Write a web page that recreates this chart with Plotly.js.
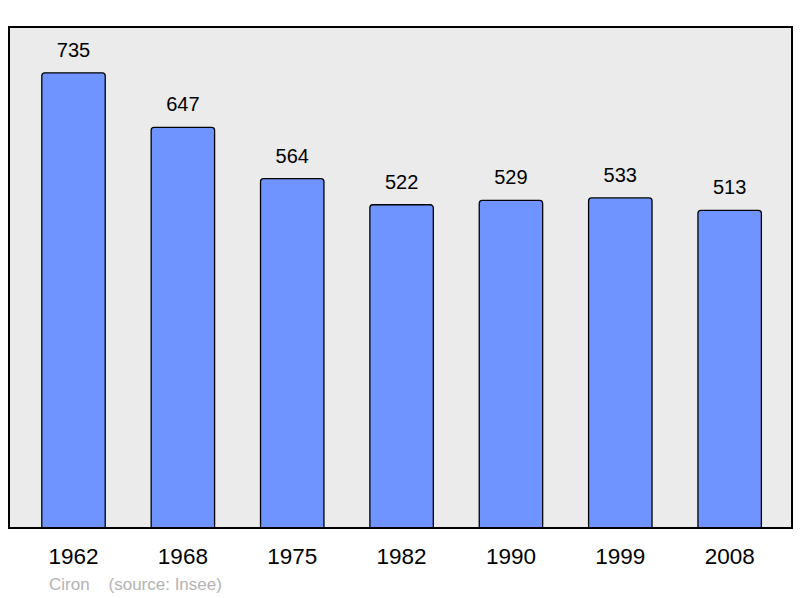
<!DOCTYPE html>
<html>
<head>
<meta charset="utf-8">
<script src="https://cdn.plot.ly/plotly-3.0.1.min.js"></script>
<style>body{margin:0;background:#fff}</style>
</head>
<body>
<div id="chart" style="width:800px;height:598px"></div>
<script>
var years = ['1962', '1968', '1975', '1982', '1990', '1999', '2008'];
var population = [735, 647, 564, 522, 529, 533, 513];

var font = 'Liberation Sans, Arial, sans-serif';
var traces = [{
  x: years, y: population, type: 'bar', width: 0.58, hoverinfo: 'none',
  marker: { color: '#7094ff', line: { color: '#000', width: 1.3 }, cornerradius: 3 }
}, {
  x: years, y: population, type: 'scatter', mode: 'markers+text', hoverinfo: 'none',
  marker: { size: 16, opacity: 0 }, cliponaxis: false,
  text: population.map(String), textposition: 'top center',
  textfont: { family: font, size: 20, color: '#000' }
}];

var layout = {
  width: 800, height: 598,
  margin: { l: 9, r: 8, t: 27, b: 70 },
  paper_bgcolor: '#fff', plot_bgcolor: '#ebebeb',
  font: { family: font, color: '#000' },
  showlegend: false,
  xaxis: { type: 'category', range: [-0.59, 6.57], showgrid: false, zeroline: false,
    ticks: '', tickfont: { size: 22.5 }, ticklabelstandoff: 12, fixedrange: true },
  yaxis: { range: [0, 809], showgrid: false, zeroline: false, showticklabels: false, ticks: '' },
  shapes: [{ type: 'rect', xref: 'paper', yref: 'paper', x0: 0, x1: 1, y0: 0, y1: 1,
    line: { color: '#000', width: 2 } }],
  annotations: [{ xref: 'paper', yref: 'paper', x: 0.0485, y: -0.112, xanchor: 'left', yanchor: 'middle',
    showarrow: false, text: 'Ciron&nbsp;&nbsp;&nbsp;&nbsp;(source: Insee)', font: { size: 17, color: '#b3b3b3' } }]
};

Plotly.newPlot('chart', traces, layout, { displayModeBar: false });
</script>
</body>
</html>
